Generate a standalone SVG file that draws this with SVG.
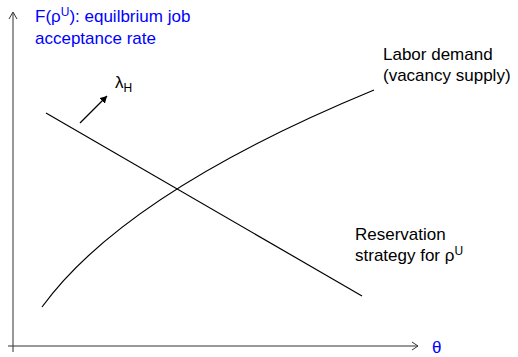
<svg xmlns="http://www.w3.org/2000/svg" width="518" height="357" viewBox="0 0 518 357">
<style>
.ln{stroke:#000;stroke-width:1.2;fill:none}
.ax{stroke:#333;stroke-width:1;fill:none}
.t{font-family:"Liberation Sans",Arial,sans-serif;font-size:17px;fill:#000}
.b{fill:#0000ff}
</style>
<defs>
<marker id="ah" markerWidth="8" markerHeight="8" refX="7" refY="4" orient="auto" markerUnits="userSpaceOnUse">
<path d="M0,0 L7,4 L0,8 z" fill="#000"/>
</marker>
</defs>
<g id="axes">
<line class="ax" x1="13" y1="352" x2="13" y2="13"/>
<path class="ax" d="M9,19 L13,12 L17,19"/>
<line class="ax" x1="8" y1="346" x2="418" y2="346"/>
<path class="ax" d="M412,342 L418,346 L412,350"/>
</g>
<g id="connectors">
<line class="ln" x1="46" y1="113" x2="362" y2="296"/>
<path class="ln" d="M42,307 C88,244 180,170 374,90"/>
<line class="ln" x1="80" y1="123" x2="107" y2="96" marker-end="url(#ah)"/>
</g>
<g id="yLabel">
<text class="t b" x="35" y="22">F(ρ<tspan font-size="12" dy="-6">U</tspan><tspan dy="6">): equilbrium job</tspan></text>
<text class="t b" x="35" y="44">acceptance rate</text>
</g>
<g id="lambda">
<text class="t" x="115" y="88">λ<tspan font-size="12" dy="4">H</tspan></text>
</g>
<g id="demand">
<text class="t" x="383" y="60">Labor demand</text>
<text class="t" x="383" y="81">(vacancy supply)</text>
</g>
<g id="reservation">
<text class="t" x="355" y="240">Reservation</text>
<text class="t" x="355" y="261">strategy for ρ<tspan font-size="12" dy="-6" fill="#000">U</tspan></text>
</g>
<g id="theta">
<text class="t b" x="432" y="353" font-family="Liberation Serif,serif" font-size="16">θ</text>
</g>
</svg>
